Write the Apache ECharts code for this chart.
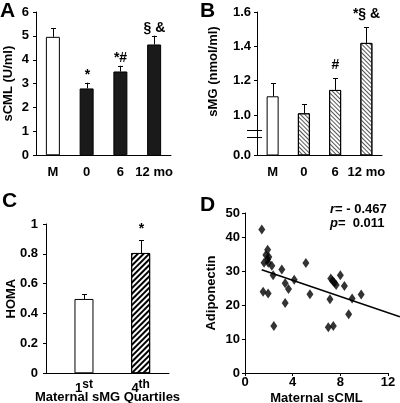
<!DOCTYPE html>
<html><head><meta charset="utf-8">
<script src="https://cdn.jsdelivr.net/npm/echarts@6/dist/echarts.min.js"></script>
<style>html,body{margin:0;padding:0;background:#fff}#c{width:400px;height:403px}</style>
</head><body><div id="c"></div>
<script>
// ---- data ----
const catsAB = ['M', '0', '6', '12 mo'];
const sCML = [4.96, 2.80, 3.51, 4.64];
const sCMLErr = [0.37, 0.24, 0.24, 0.37];
const sCMLSig = ['', '*', '*#', '§ &'];
const sMG = [1.109, 1.01, 1.146, 1.42];
const sMGErr = [0.076, 0.054, 0.068, 0.091];
const sMGSig = ['', '', '#', '*§ &'];
const yTicksB = [1.0, 1.2, 1.4, 1.6];
const yBreakLabelB = '0.0';
const homaCats = ['1st', '4th'];
const homaPos = [1, 2];
const homa = [0.498, 0.806];
const homaErr = [0.031, 0.087];
const homaSig = ['', '*'];
const yTicksD = [0, 10, 20, 30, 40];
const yTopLabelD = '50';
const sCMLx = [1.41, 1.9, 1.75, 2.0, 1.9, 1.6, 1.95, 2.25, 3.09, 2.36, 5.11, 3.37, 3.65, 4.13, 1.52, 1.94, 5.45, 3.37, 2.42,
  7.2, 7.35, 7.5, 7.65, 8.0, 8.34, 7.13, 8.99, 9.75, 8.7, 6.99, 7.41];
const adipo = [42.4, 36.4, 34.9, 34.3, 33.6, 32.6, 32.6, 31.7, 30.6, 28.9, 32.5, 26.5, 24.8, 27.6, 24.0, 23.5, 23.3, 20.7, 13.9,
  27.9, 27.3, 26.7, 26.0, 28.9, 25.7, 21.8, 22.0, 23.2, 17.4, 13.5, 13.9];
const regLine = [[1.4, 30.5], [13, 16.6]];
const corrR = '- 0.467';
const corrP = '0.011';

// ---- style ----
const FF = '"Liberation Sans", Arial, sans-serif';
const bold = {color: '#000', fontWeight: 'bold', fontSize: 13, fontFamily: FF};
const axLine = {show: true, lineStyle: {color: '#000', width: 1}};
const yTick = {show: true, length: 3, lineStyle: {color: '#000'}};
const fineHatch = {symbol: 'rect', symbolSize: 1, dashArrayX: [1, 0], dashArrayY: [1, 1.8], rotation: Math.PI / 4, color: '#555'};
const boldHatch = {symbol: 'rect', symbolSize: 1, dashArrayX: [1, 0], dashArrayY: [2, 1.6], rotation: -Math.PI / 4, color: '#000'};

function errSeries(gi, xs, vals, errs, sigs, lift) {
  return {
    type: 'custom', xAxisIndex: gi, yAxisIndex: gi, z: 5, silent: true,
    data: vals.map((v, i) => [xs[i], v, v + errs[i]]),
    renderItem(params, api) {
      const p0 = api.coord([api.value(0), api.value(1)]);
      const p1 = api.coord([api.value(0), api.value(2)]);
      const x = Math.round(p0[0]) + 0.5;
      const ch = [
        {type: 'line', shape: {x1: x, y1: p0[1], x2: x, y2: p1[1]}, style: {stroke: '#000', lineWidth: 1}},
        {type: 'line', shape: {x1: x - 2.5, y1: Math.round(p1[1]) + 0.5, x2: x + 2.5, y2: Math.round(p1[1]) + 0.5}, style: {stroke: '#000', lineWidth: 1}}
      ];
      const s = sigs[params.dataIndex];
      if (s) ch.push({type: 'text', x: x, y: p1[1] - lift, style: {text: s, font: 'bold 14px ' + FF, align: 'center', verticalAlign: 'bottom', fill: '#000'}});
      return {type: 'group', children: ch};
    }
  };
}

const chart = echarts.init(document.getElementById('c'));
const option = {
  animation: false,
  textStyle: {fontFamily: FF},
  grid: [
    {left: 36, top: 12, width: 135, height: 143.3, outerBoundsMode: 'none'},
    {left: 257, top: 12, width: 125, height: 143, outerBoundsMode: 'none'},
    {left: 46, top: 224, width: 123, height: 149.3, outerBoundsMode: 'none'},
    {left: 245, top: 213, width: 143, height: 160, outerBoundsMode: 'none'}
  ],
  xAxis: [
    {type: 'category', gridIndex: 0, data: catsAB, axisLine: axLine, axisTick: {show: false}, axisLabel: Object.assign({margin: 11, interval: 0}, bold)},
    {type: 'category', gridIndex: 1, data: catsAB, axisLine: axLine, axisTick: {show: false}, axisLabel: Object.assign({margin: 11, interval: 0}, bold)},
    {type: 'value', gridIndex: 2, min: 0.33, max: 2.5, axisLine: axLine, axisTick: {show: false}, splitLine: {show: false},
      name: 'Maternal sMG Quartiles', nameLocation: 'middle', nameGap: 18, nameMoveOverlap: false, nameTextStyle: bold,
      axisLabel: Object.assign({margin: 5, customValues: homaPos,
        formatter: v => { const i = homaPos.indexOf(v); const t = homaCats[i] || ''; return '{n|' + t.slice(0, 1) + '}{s|' + t.slice(1) + '}'; },
        rich: {n: {fontSize: 13, fontWeight: 'bold', fontFamily: FF, color: '#000', verticalAlign: 'bottom', padding: [4, 0, 0, 0]},
               s: {fontSize: 12, fontWeight: 'bold', fontFamily: FF, color: '#000', verticalAlign: 'top', padding: [0, 0, 4, 0]}}}, bold)},
    {type: 'value', gridIndex: 3, min: 0, max: 12, interval: 4, axisLine: axLine, axisTick: {show: true, length: 3, lineStyle: {color: '#000'}}, splitLine: {show: false},
      axisLabel: Object.assign({margin: 3}, bold),
      name: 'Maternal sCML', nameLocation: 'middle', nameGap: 19, nameMoveOverlap: false, nameTextStyle: bold}
  ],
  yAxis: [
    {type: 'value', gridIndex: 0, min: 0, max: 6, interval: 1, axisLine: axLine, axisTick: yTick, splitLine: {show: false},
      axisLabel: Object.assign({margin: 7}, bold), name: 'sCML (U/ml)', nameLocation: 'middle', nameGap: 21, nameMoveOverlap: false, nameTextStyle: bold},
    {type: 'value', gridIndex: 1, min: 0.767, max: 1.6, axisLine: axLine, splitLine: {show: false},
      axisTick: Object.assign({customValues: [0.767].concat(yTicksB)}, yTick),
      axisLabel: Object.assign({margin: 6, customValues: [0.767].concat(yTicksB), formatter: v => v < 0.9 ? yBreakLabelB : v.toFixed(1)}, bold),
      name: 'sMG (nmol/ml)', nameLocation: 'middle', nameGap: 37, nameMoveOverlap: false, nameTextStyle: Object.assign({padding: [0, 0, 0, 24]}, bold)},
    {type: 'value', gridIndex: 2, min: 0, max: 1, interval: 0.2, axisLine: axLine, axisTick: yTick, splitLine: {show: false},
      axisLabel: Object.assign({margin: 8}, bold), name: 'HOMA', nameLocation: 'middle', nameGap: 28, nameMoveOverlap: false, nameTextStyle: bold},
    {type: 'value', gridIndex: 3, min: 0, max: 47.3, axisLine: axLine, splitLine: {show: false},
      axisTick: Object.assign({customValues: yTicksD.concat([47.3])}, yTick),
      axisLabel: Object.assign({margin: 5, customValues: yTicksD.concat([47.3]), formatter: v => v > 45 ? yTopLabelD : String(v)}, bold),
      name: 'Adiponectin', nameLocation: 'middle', nameGap: 27, nameMoveOverlap: false, nameTextStyle: bold}
  ],
  series: [
    {type: 'bar', xAxisIndex: 0, yAxisIndex: 0, barWidth: 14,
      data: sCML.map((v, i) => ({value: v, itemStyle: {color: i === 0 ? '#fff' : '#1a1a1a', borderColor: '#000', borderWidth: 1}}))},
    errSeries(0, [0, 1, 2, 3], sCML, sCMLErr, sCMLSig, 1),
    {type: 'bar', xAxisIndex: 1, yAxisIndex: 1, barWidth: 12,
      data: sMG.map((v, i) => ({value: v, itemStyle: i === 0 ? {color: '#fff', borderColor: '#000', borderWidth: 1} : {color: '#fff', borderColor: '#000', borderWidth: 1, decal: fineHatch}}))},
    errSeries(1, [0, 1, 2, 3], sMG, sMGErr, sMGSig, 6),
    {type: 'custom', xAxisIndex: 1, yAxisIndex: 1, silent: true, data: [[0, 0.913], [0, 0.872]],
      renderItem(params, api) {
        const cs = params.coordSys;
        const y = Math.round(api.coord([0, api.value(1)])[1]) + 0.5;
        return {type: 'line', shape: {x1: cs.x - 10, y1: y, x2: cs.x + 5, y2: y}, style: {stroke: '#000', lineWidth: 1}};
      }},
    {type: 'bar', xAxisIndex: 2, yAxisIndex: 2, barWidth: 19,
      data: homa.map((v, i) => ({value: [homaPos[i], v], itemStyle: i === 0 ? {color: '#fff', borderColor: '#000', borderWidth: 1} : {color: '#fff', borderColor: '#000', borderWidth: 1, decal: boldHatch}}))},
    errSeries(2, homaPos, homa, homaErr, homaSig, 4),
    {type: 'scatter', xAxisIndex: 3, yAxisIndex: 3, symbol: 'diamond', symbolSize: [7, 10], itemStyle: {color: '#000'},
      data: sCMLx.map((x, i) => [x, adipo[i]])},
    {type: 'custom', xAxisIndex: 3, yAxisIndex: 3, silent: true, clip: false, data: [regLine[0].concat(regLine[1])],
      renderItem(params, api) {
        const a = api.coord([api.value(0), api.value(1)]);
        const b = api.coord([api.value(2), api.value(3)]);
        return {type: 'line', shape: {x1: a[0], y1: a[1], x2: b[0], y2: b[1]}, style: {stroke: '#000', lineWidth: 1.5}};
      }}
  ],
  graphic: [
    {type: 'text', left: 0, top: 1, style: {text: 'A', font: 'bold 21px ' + FF, fill: '#000'}},
    {type: 'text', left: 200, top: 1, style: {text: 'B', font: 'bold 21px ' + FF, fill: '#000'}},
    {type: 'text', left: 2, top: 191, style: {text: 'C', font: 'bold 21px ' + FF, fill: '#000'}},
    {type: 'text', left: 200, top: 195, style: {text: 'D', font: 'bold 21px ' + FF, fill: '#000'}},
    {type: 'text', left: 330, top: 203, style: {rich: {i: {font: 'italic bold 13px ' + FF, fill: '#000'}, b: {font: 'bold 13px ' + FF, fill: '#000'}}, text: '{i|r}{b|= ' + corrR + '}'}},
    {type: 'text', left: 330, top: 217, style: {rich: {i: {font: 'italic bold 13px ' + FF, fill: '#000'}, b: {font: 'bold 13px ' + FF, fill: '#000'}}, text: '{i|p}{b|=  ' + corrP + '}'}}
  ]
};
chart.setOption(option);
</script>
</body></html>
